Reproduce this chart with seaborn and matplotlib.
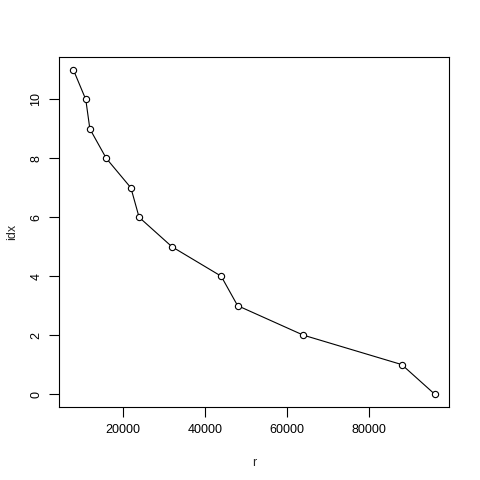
import numpy as np
import pandas as pd
import seaborn as sns
import matplotlib
matplotlib.use("Agg")
import matplotlib.pyplot as plt

# data
r = [96000, 88000, 64000, 48000, 44000, 32000, 24000, 22000, 16000, 12000, 11000, 8000]
idx = [0, 1, 2, 3, 4, 5, 6, 7, 8, 9, 10, 11]

df = pd.DataFrame({"r": r, "idx": idx})

sns.set_style("white")
plt.rcParams["font.family"] = ["Liberation Sans", "DejaVu Sans"]

fig = plt.figure(figsize=(4.8, 4.8), dpi=100)
ax = fig.add_axes([59 / 480, 73 / 480, 390 / 480, 350 / 480])

sns.lineplot(data=df, x="r", y="idx", sort=False, ax=ax, color="black", linewidth=0.8,
             marker="o", markersize=4.5, markerfacecolor="white", markeredgecolor="black",
             markeredgewidth=0.8)

ax.set_xlim(4480, 99520)
ax.set_ylim(-0.44, 11.44)
ax.set_xticks([20000, 40000, 60000, 80000])
ax.set_yticks([0, 2, 4, 6, 8, 10])
for lbl in ax.get_yticklabels():
    lbl.set_rotation(90)
    lbl.set_va("center")
ax.tick_params(direction="out", length=7, width=0.8, labelsize=9, colors="black",
               bottom=True, left=True, pad=5)
for s in ax.spines.values():
    s.set_color("black")
    s.set_linewidth(0.8)
ax.set_xlabel("r", fontsize=9)
ax.set_ylabel("idx", fontsize=9)
ax.xaxis.set_label_coords(0.5, -(457 - 407) / 350)
ax.yaxis.set_label_coords(-(59 - 18) / 390, 0.5)

fig.savefig("out.png", dpi=100)
